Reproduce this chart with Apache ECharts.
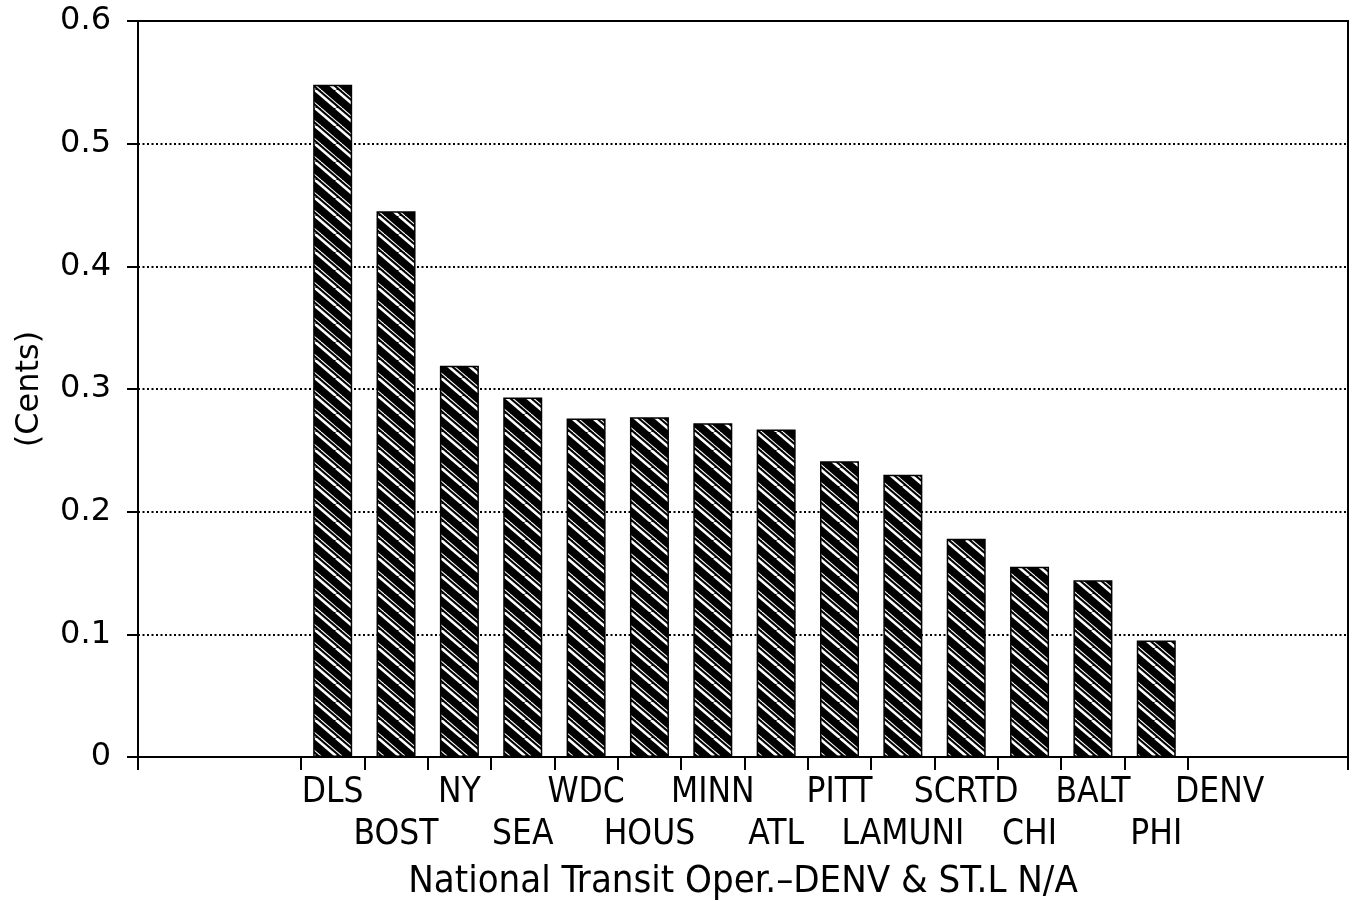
<!DOCTYPE html>
<html lang="en" style="height: 100%">
<head>
    <meta charset="UTF-8">
    <title>National Transit Oper.</title>
</head>
<body style="height: 100%; margin: 0; background: #fff">
<div id="container" style="width: 1352px; height: 901px"></div>
<script src="https://cdn.jsdelivr.net/npm/echarts@6/dist/echarts.min.js"></script>
<script>
    // two empty slots before DLS, two after DENV (the last one runs off the page)
    var cities = ['', '', 'DLS', 'BOST', 'NY', 'SEA', 'WDC', 'HOUS', 'MINN', 'ATL', 'PITT', 'LAMUNI', 'SCRTD', 'CHI', 'BALT', 'PHI', 'DENV', '', ''];
    var cents = [null, null, 0.548, 0.445, 0.319, 0.293, 0.276, 0.277, 0.272, 0.267, 0.241, 0.230, 0.178, 0.155, 0.144, 0.095, null, null, null];
    var yTicks = [0, 0.1, 0.2, 0.3, 0.4, 0.5, 0.6];

    var narrow = '"Liberation Sans Narrow", "DejaVu Sans Condensed", "DejaVu Sans", sans-serif';

    // black fill with white diagonal hatch
    function hatch() {
        var w = 21, h = 18;
        var c = document.createElement('canvas');
        c.width = w;
        c.height = h;
        var ctx = c.getContext('2d');
        ctx.fillStyle = '#000';
        ctx.fillRect(0, 0, w, h);
        ctx.strokeStyle = '#fff';
        [[0, 2.6], [6, 1.1]].forEach(function (ln) {
            ctx.lineWidth = ln[1];
            for (var k = -1; k <= 1; k++) {
                ctx.beginPath();
                ctx.moveTo(ln[0] + k * w, 0);
                ctx.lineTo(ln[0] + k * w + w, h);
                ctx.stroke();
            }
        });
        return c;
    }

    var chart = echarts.init(document.getElementById('container'));

    var option = {
        animation: false,
        backgroundColor: '#fff',
        grid: [
            {left: 138, right: 4, top: 21, bottom: 144, outerBoundsMode: 'none',
                show: true, borderColor: '#000', borderWidth: 2},
            {left: 174.3, right: -26, top: 21, bottom: 144, outerBoundsMode: 'none'}
        ],
        xAxis: [
            {
                gridIndex: 0,
                type: 'category',
                data: [''],
                axisLine: {lineStyle: {color: '#000', width: 2}},
                axisTick: {show: true, alignWithLabel: false, length: 13, lineStyle: {color: '#000', width: 2}},
                axisLabel: {show: false},
                name: 'National Transit Oper.\u2013DENV & ST.L N/A',
                nameLocation: 'middle',
                nameGap: 106,
                nameTextStyle: {fontFamily: narrow, fontSize: 38, color: '#000'}
            },
            {
                gridIndex: 1,
                type: 'category',
                data: cities,
                axisLine: {show: true, lineStyle: {color: 'rgba(0,0,0,0)'}},
                axisTick: {
                    show: true,
                    alignWithLabel: false,
                    length: 13,
                    interval: function (i) { return i >= 2 && i <= 16; },
                    lineStyle: {color: '#000', width: 2}
                },
                axisLabel: {
                    interval: 0,
                    margin: 15,
                    lineHeight: 42,
                    fontFamily: narrow,
                    fontSize: 35,
                    color: '#000',
                    formatter: function (v, i) { return i % 2 === 1 ? '\n' + v : v; }
                }
            }
        ],
        yAxis: [
            {
                gridIndex: 0,
                type: 'value',
                min: yTicks[0],
                max: yTicks[yTicks.length - 1],
                interval: 0.1,
                axisLine: {show: true, lineStyle: {color: '#000', width: 2}},
                axisTick: {show: true, length: 11, lineStyle: {color: '#000', width: 2}},
                axisLabel: {
                    margin: 27,
                    fontFamily: '"DejaVu Sans", sans-serif',
                    fontSize: 32,
                    color: '#000',
                    formatter: function (v) { return String(+v.toFixed(1)); }
                },
                splitLine: {
                    show: true,
                    showMinLine: false,
                    showMaxLine: false,
                    lineStyle: {color: '#000', width: 1.8, type: [2, 2.5]}
                },
                name: '(Cents)',
                nameLocation: 'middle',
                nameGap: 92,
                nameTextStyle: {fontFamily: '"DejaVu Sans", sans-serif', fontSize: 32, color: '#000'}
            },
            {
                gridIndex: 1,
                type: 'value',
                min: yTicks[0],
                max: yTicks[yTicks.length - 1],
                show: false
            }
        ],
        series: [{
            type: 'bar',
            xAxisIndex: 1,
            yAxisIndex: 1,
            data: cents,
            barWidth: 39,
            itemStyle: {
                color: {image: hatch(), repeat: 'repeat'},
                borderColor: '#000',
                borderWidth: 1.5
            }
        }]
    };

    chart.setOption(option);
</script>
</body>
</html>
